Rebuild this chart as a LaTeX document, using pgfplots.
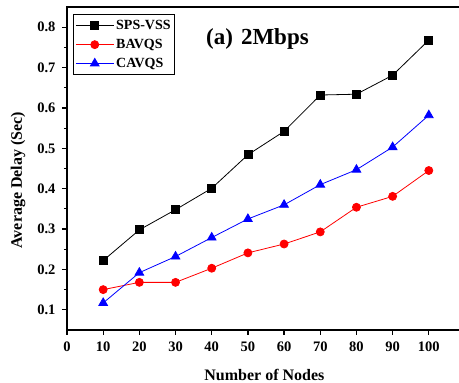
\documentclass[border=0pt]{standalone}
\usepackage{fontspec}
\setmainfont{Liberation Serif}
\usepackage{pgfplots}
\pgfplotsset{compat=1.18}
\begin{document}
\begin{tikzpicture}[x=1pt,y=1pt]
\begin{axis}[
  at={(0,0)}, anchor=south west,
  scale only axis, width=398pt, height=323pt,
  xmin=0, xmax=110, ymin=0.05, ymax=0.85,
  xtick={0,10,...,100},
  ytick={0.1,0.2,...,0.8},
  minor y tick num=1,
  axis line style={line width=1.6pt},
  tick style={line width=1.2pt, black},
  tick align=outside,
  major tick length=5pt, minor tick length=3pt,
  xtick pos=bottom, ytick pos=left,
  font=\fontsize{14.5}{16}\selectfont\bfseries,
  /pgf/number format/assume math mode=true,
  /pgf/number format/fixed, /pgf/number format/precision=1,
  /pgf/number format/fixed zerofill,
  xticklabel={\pgfmathprintnumber[fixed,precision=0]{\tick}},
  xticklabel style={yshift=-3pt},
  yticklabel style={xshift=-3pt},
  xlabel={Number of Nodes},
  ylabel={Average Delay (Sec)},
  label style={font=\fontsize{16}{17}\selectfont\bfseries},
  xlabel style={at={(axis description cs:0.496,-0.139)}, anchor=center},
  ylabel style={at={(axis description cs:-0.123,0.464)}, anchor=center},
  legend cell align=left,
  legend style={at={(0.015,0.978)}, anchor=north west, draw=black, line width=0.8pt,
    font=\fontsize{14}{15}\selectfont\bfseries, row sep=4pt, inner xsep=2pt, inner ysep=4pt},
  legend image code/.code={\draw[#1, line width=0.8pt] (0pt,0pt) -- (38pt,0pt); \draw[#1, only marks] plot coordinates {(19pt,0pt)};},
]
\addplot[black, line width=0.8pt, mark=square*, mark size=4pt] coordinates {
(10,0.222) (20,0.298) (30,0.348) (40,0.401) (50,0.484) (60,0.542) (70,0.632) (80,0.634) (90,0.681) (100,0.768)};
\addlegendentry{SPS-VSS}
\addplot[red, line width=0.8pt, mark=*, mark size=4pt] coordinates {
(10,0.150) (20,0.168) (30,0.168) (40,0.203) (50,0.241) (60,0.263) (70,0.293) (80,0.354) (90,0.381) (100,0.445)};
\addlegendentry{BAVQS}
\addplot[blue, line width=0.8pt, mark=triangle*, mark size=5pt] coordinates {
(10,0.117) (20,0.192) (30,0.232) (40,0.279) (50,0.325) (60,0.360) (70,0.410) (80,0.447) (90,0.503) (100,0.582)};
\addlegendentry{CAVQS}
\node[anchor=west, font=\fontsize{23}{25}\selectfont\bfseries] at (axis cs:37.5,0.77) {(a)\hspace{8pt}2Mbps};
\end{axis}
\pgfresetboundingbox
\useasboundingbox (-67,-53) rectangle (392,330);
\end{tikzpicture}
\end{document}
